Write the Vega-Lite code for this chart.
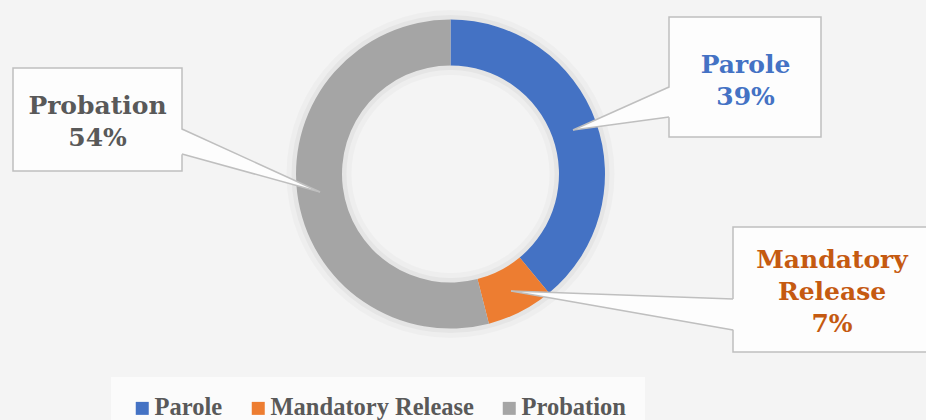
{
  "$schema": "https://vega.github.io/schema/vega-lite/v6.json",
  "width": 926,
  "height": 420,
  "autosize": "none",
  "padding": 0,
  "background": "#f4f4f4",
  "config": {"view": {"stroke": null}},
  "datasets": {
    "main": [
      {"cat": "Parole", "value": 39, "ord": 1},
      {"cat": "Mandatory Release", "value": 7, "ord": 2},
      {"cat": "Probation", "value": 54, "ord": 3}
    ],
    "callouts": [
      {"cat": "Parole", "bx1": 218.5, "bx2": 370.5, "by1": 157, "by2": 37, "tx": 122.5, "ty": 44, "px": 218.5, "py1": 87, "py2": 57, "lx": 295, "ly": 101.3, "label": "Parole\n39%"},
      {"cat": "Mandatory Release", "bx1": 282.5, "bx2": 480.5, "by1": -53, "by2": -178, "tx": 60.5, "ty": -117, "px": 282.5, "py1": -125, "py2": -156, "lx": 381.5, "ly": -93.7, "label": "Mandatory\nRelease\n7%"},
      {"cat": "Probation", "bx1": -437.5, "bx2": -268.5, "by1": 106, "by2": 3, "tx": -130.5, "ty": -18, "px": -268.5, "py1": 45, "py2": 20, "lx": -353, "ly": 60, "label": "Probation\n54%"}
    ],
    "pointers": [
      {"cat": "Parole", "x": 122.5, "ylo": 44, "yhi": 44},
      {"cat": "Parole", "x": 220.5, "ylo": 57, "yhi": 87},
      {"cat": "Mandatory Release", "x": 60.5, "ylo": -117, "yhi": -117},
      {"cat": "Mandatory Release", "x": 284.5, "ylo": -156, "yhi": -125},
      {"cat": "Probation", "x": -270.5, "ylo": 20, "yhi": 45},
      {"cat": "Probation", "x": -130.5, "ylo": -18, "yhi": -18}
    ]
  },
  "layer": [
    {
      "data": {"values": [{"ring": "shadow"}]},
      "mark": {"type": "arc", "outerRadius": 164, "innerRadius": 99, "fill": "#000000", "opacity": 0.025},
      "encoding": {
        "x": {"datum": 0, "type": "quantitative", "scale": {"domain": [-450.5, 475.5], "nice": false, "zero": false}, "axis": null},
        "y": {"datum": 0, "type": "quantitative", "scale": {"domain": [-246, 174], "nice": false, "zero": false}, "axis": null}
      }
    },
    {
      "data": {"values": [{"ring": "shadow"}]},
      "mark": {"type": "arc", "outerRadius": 159, "innerRadius": 104, "fill": "#000000", "opacity": 0.035},
      "encoding": {
        "x": {"datum": 0, "type": "quantitative"},
        "y": {"datum": 0, "type": "quantitative"}
      }
    },
    {
      "data": {"name": "main"},
      "mark": {"type": "arc", "outerRadius": 154.5, "innerRadius": 108.5},
      "encoding": {
        "x": {"datum": 0, "type": "quantitative"},
        "y": {"datum": 0, "type": "quantitative"},
        "theta": {"field": "value", "type": "quantitative", "stack": true},
        "order": {"field": "ord", "type": "quantitative"},
        "color": {
          "field": "cat", "type": "nominal",
          "scale": {"domain": ["Parole", "Mandatory Release", "Probation"], "range": ["#4472C4", "#ED7D31", "#A5A5A5"]},
          "legend": {
            "orient": "none", "direction": "horizontal", "legendX": 111, "legendY": 377,
            "title": null, "symbolType": "square", "symbolSize": 169, "symbolStrokeWidth": 0,
            "labelFont": "Liberation Serif", "labelFontWeight": "bold", "labelFontSize": 24.5,
            "labelColor": "#595959", "labelOffset": 0, "columnPadding": 23, "padding": 19,
            "fillColor": "#fbfbfb", "labelLimit": 400
          }
        }
      }
    },
    {
      "data": {"name": "callouts"},
      "mark": {"type": "rect", "fill": "#fdfdfd", "stroke": "#bfbfbf", "strokeWidth": 1.5},
      "encoding": {
        "x": {"field": "bx1", "type": "quantitative"},
        "x2": {"field": "bx2"},
        "y": {"field": "by1", "type": "quantitative"},
        "y2": {"field": "by2"}
      }
    },
    {
      "data": {"name": "pointers"},
      "mark": {"type": "area", "fill": "#fdfdfd", "opacity": 1, "interpolate": "linear"},
      "encoding": {
        "x": {"field": "x", "type": "quantitative"},
        "y": {"field": "ylo", "type": "quantitative"},
        "y2": {"field": "yhi"},
        "detail": {"field": "cat", "type": "nominal"}
      }
    },
    {
      "data": {"name": "callouts"},
      "mark": {"type": "rule", "stroke": "#bfbfbf", "strokeWidth": 1.5},
      "encoding": {
        "x": {"field": "tx", "type": "quantitative"},
        "y": {"field": "ty", "type": "quantitative"},
        "x2": {"field": "px"},
        "y2": {"field": "py1"}
      }
    },
    {
      "data": {"name": "callouts"},
      "mark": {"type": "rule", "stroke": "#bfbfbf", "strokeWidth": 1.5},
      "encoding": {
        "x": {"field": "tx", "type": "quantitative"},
        "y": {"field": "ty", "type": "quantitative"},
        "x2": {"field": "px"},
        "y2": {"field": "py2"}
      }
    },
    {
      "data": {"name": "callouts"},
      "mark": {"type": "text", "font": "DejaVu Serif", "fontWeight": "bold", "fontSize": 25, "align": "center", "baseline": "alphabetic", "lineHeight": 32, "lineBreak": "\n"},
      "encoding": {
        "x": {"field": "lx", "type": "quantitative"},
        "y": {"field": "ly", "type": "quantitative"},
        "text": {"field": "label", "type": "nominal"},
        "color": {
          "field": "cat", "type": "nominal",
          "scale": {"domain": ["Parole", "Mandatory Release", "Probation"], "range": ["#4472C4", "#C55A11", "#595959"]},
          "legend": null
        }
      }
    }
  ],
  "resolve": {"scale": {"color": "independent"}}
}
